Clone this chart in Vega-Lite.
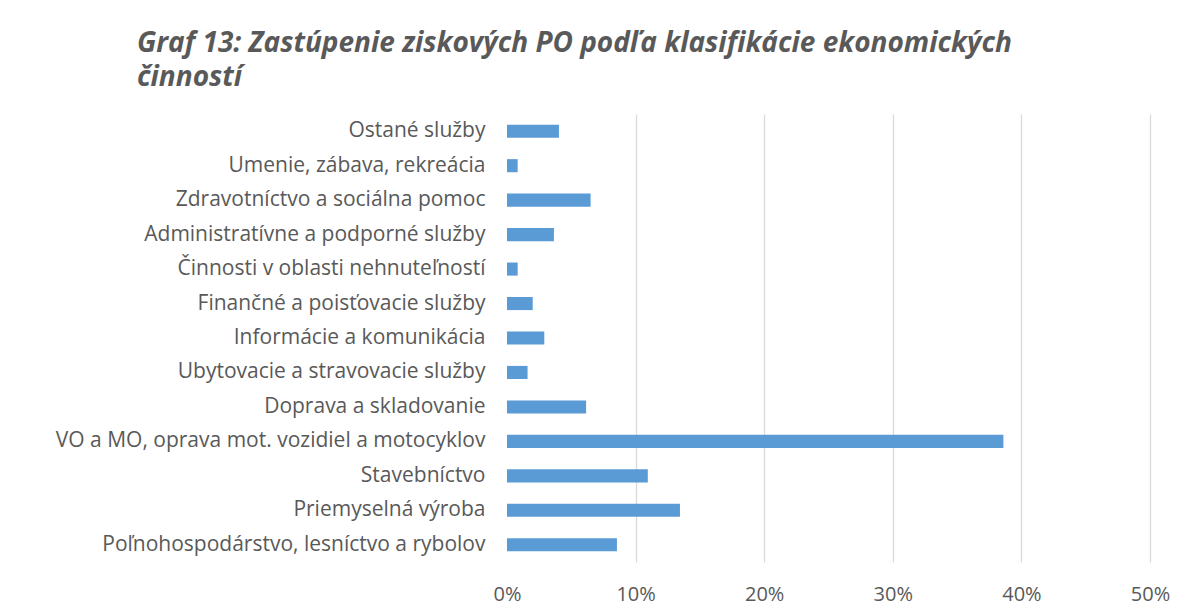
{
  "$schema": "https://vega.github.io/schema/vega-lite/v6.json",
  "width": 643,
  "height": 448,
  "autosize": {"type": "none"},
  "padding": {"left": 507, "top": 114, "right": 28, "bottom": 52},
  "background": "white",
  "title": {
    "text": ["Graf 13: Zastúpenie ziskových PO podľa klasifikácie ekonomických", "činností"],
    "anchor": "start",
    "frame": "group",
    "dx": -370,
    "offset": 22,
    "font": "Open Sans",
    "fontSize": 28,
    "fontWeight": "bold",
    "fontStyle": "italic",
    "color": "#595959",
    "lineHeight": 34,
    "limit": 1100
  },
  "data": {
    "values": [
      {"kategoria": "Ostané služby", "podiel": 0.0404},
      {"kategoria": "Umenie, zábava, rekreácia", "podiel": 0.0083},
      {"kategoria": "Zdravotníctvo a sociálna pomoc", "podiel": 0.065},
      {"kategoria": "Administratívne a podporné služby", "podiel": 0.0365},
      {"kategoria": "Činnosti v oblasti nehnuteľností", "podiel": 0.0083},
      {"kategoria": "Finančné a poisťovacie služby", "podiel": 0.02},
      {"kategoria": "Informácie a komunikácia", "podiel": 0.029},
      {"kategoria": "Ubytovacie a stravovacie služby", "podiel": 0.016},
      {"kategoria": "Doprava a skladovanie", "podiel": 0.0615},
      {"kategoria": "VO a MO, oprava mot. vozidiel a motocyklov", "podiel": 0.386},
      {"kategoria": "Stavebníctvo", "podiel": 0.1095},
      {"kategoria": "Priemyselná výroba", "podiel": 0.1345},
      {"kategoria": "Poľnohospodárstvo, lesníctvo a rybolov", "podiel": 0.0855}
    ]
  },
  "mark": {"type": "bar", "color": "#5B9BD5"},
  "encoding": {
    "y": {
      "field": "kategoria",
      "type": "nominal",
      "sort": null,
      "scale": {"paddingInner": 0.62, "paddingOuter": 0.31},
      "axis": {
        "title": null,
        "ticks": false,
        "domain": false,
        "labelPadding": 22,
        "labelFont": "Open Sans",
        "labelFontSize": 21,
        "labelColor": "#595959",
        "labelLimit": 500
      }
    },
    "x": {
      "field": "podiel",
      "type": "quantitative",
      "scale": {"domain": [0, 0.5], "nice": false},
      "axis": {
        "title": null,
        "format": ".0%",
        "values": [0, 0.1, 0.2, 0.3, 0.4, 0.5],
        "ticks": false,
        "domain": false,
        "labelFlush": false,
        "labelPadding": 22,
        "labelFont": "Open Sans",
        "labelFontSize": 20,
        "labelColor": "#595959",
        "gridColor": {"condition": {"test": "datum.value === 0", "value": "transparent"}, "value": "#d9d9d9"},
        "gridWidth": 1.3
      }
    }
  },
  "config": {"view": {"stroke": null}}
}
